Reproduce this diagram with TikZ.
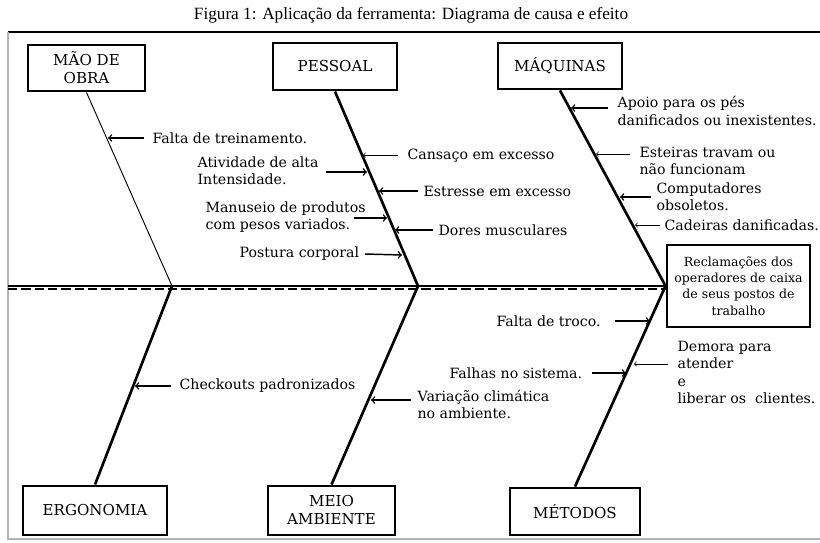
\documentclass[tikz,border=0pt]{standalone}
\usepackage{fontspec}
\setmainfont{DejaVu Serif}
\newfontfamily\titlefont{Liberation Serif}

\begin{document}
\begin{tikzpicture}[x=0.75pt,y=-0.75pt,>=to,
    caixa/.style={draw,line width=2.2pt,align=center,inner sep=1pt,
      font=\fontsize{11.3}{13.5}\selectfont},
    causa/.style={align=left,inner sep=1pt,anchor=west,
      font=\fontsize{10.6}{13}\selectfont},
    espinha/.style={draw,line width=2pt},
    seta/.style={draw,->,line width=1.1pt},
    setafina/.style={draw,->,line width=0.5pt}]

  \useasboundingbox (0,0) rectangle (820,542);

  % titulo e moldura
  \node (titulo) at (411,15) {\titlefont\fontsize{12.9}{14}\selectfont
    Figura 1: Aplicação da ferramenta: Diagrama de causa e efeito};
  \draw[line width=0.8pt] (8,32) -- (820,32);
  \draw[gray!60,line width=0.8pt] (8,32) -- (8,539) -- (820,539);

  \begin{scope}[every node/.style={caixa}]
    \node[minimum width=0.75*117,minimum height=0.75*46] (mao)  at (86.5,68)  {MÃO DE\\OBRA};
    \node[minimum width=0.75*124,minimum height=0.75*47] (pes)  at (335,66.5) {PESSOAL};
    \node[minimum width=0.75*124,minimum height=0.75*46] (maq)  at (560,66)   {MÁQUINAS};
    \node[minimum width=0.75*144,minimum height=0.75*49] (erg)  at (95,510.5) {ERGONOMIA};
    \node[minimum width=0.75*127,minimum height=0.75*49] (meio) at (331.5,510.5) {MEIO\\AMBIENTE};
    \node[minimum width=0.75*130,minimum height=0.75*47] (met)  at (575,511.5) {MÉTODOS};
    \node[minimum width=0.75*143,minimum height=0.75*82,
      font=\fontsize{9.4}{12.2}\selectfont] (efeito) at (738.5,286)
      {Reclamações dos\\operadores de caixa\\de seus postos de\\trabalho};
  \end{scope}

  % pontos na espinha
  \coordinate (s0) at (8,286);
  \coordinate (s1) at (172,286);
  \coordinate (s2) at (418,286);

  % espinha central
  \draw[line width=1.2pt] (s0) -- (efeito.west);
  \draw[line width=1.6pt,dash pattern=on 7 off 3] (8,289) -- (667,289);

  \begin{scope}[every edge/.style={espinha}]
    \path (mao.south) edge[line width=0.7pt] (s1);
    \path (pes.south) edge (s2);
    \path (maq.south) edge (efeito.west);
    \path (s1) edge (erg.north);
    \path (s2) edge (meio.north);
    \path (efeito.west) edge (met.north);
  \end{scope}

  % pontas das setas sobre as espinhas
  \coordinate (m1) at (108,138);
  \coordinate (p1) at (363,155);
  \coordinate (p2) at (367,172);
  \coordinate (p3) at (379,191);
  \coordinate (p4) at (387,218);
  \coordinate (p5) at (395,230);
  \coordinate (p6) at (402,255);
  \coordinate (q1) at (571,108);
  \coordinate (q2) at (596,154);
  \coordinate (q3) at (620,197);
  \coordinate (q4) at (635,225);
  \coordinate (e1) at (135,386);
  \coordinate (a1) at (371,400);
  \coordinate (t1) at (650,321);
  \coordinate (t2) at (634,364);
  \coordinate (t3) at (626,373);

  \begin{scope}[every node/.style={causa}]
    \node (falta) at (151,138)   {Falta de treinamento.};
    \node (cans)  at (406,156)   {Cansaço em excesso};
    \node (ativ)  at (196,171)   {Atividade de alta\\Intensidade.};
    \node (estr)  at (422,191)   {Estresse em excesso};
    \node (manu)  at (204,217)   {Manuseio de produtos\\com pesos variados.};
    \node (dores) at (437,230)   {Dores musculares};
    \node (post)  at (238,254)   {Postura corporal};
    \node (apoio) at (616,111)   {Apoio para os pés\\danificados ou inexistentes.};
    \node (este)  at (638,161)   {Esteiras travam ou\\não funcionam};
    \node (comp)  at (655,196.5) {Computadores\\obsoletos.};
    \node (cad)   at (663,225)   {Cadeiras danificadas.};
    \node (check) at (178,386)   {Checkouts padronizados};
    \node (var)   at (416,404.5) {Variação climática\\no ambiente.};
    \node (troco) at (495,321)   {Falta de troco.};
    \node (falh)  at (448,373)   {Falhas no sistema.};
    \node (dem)   at (676,372.5) {Demora para\\atender\\e\\liberar os~ clientes.};
  \end{scope}

  \begin{scope}[every edge/.style={seta}]
    \path ([xshift=-5]falta.west) edge (m1);
    \path ([xshift=4]ativ.east |- p2) edge (p2);
    \path ([xshift=-3]estr.west) edge (p3);
    \path ([xshift=-10]manu.east |- p4) edge (p4);
    \path ([xshift=-3]dores.west) edge (p5);
    \path ([xshift=3]post.east) edge (p6);
    \path ([xshift=-6]apoio.west |- q1) edge (q1);
    \path ([xshift=-3]comp.west |- q3) edge (q3);
    \path ([xshift=-5]check.west) edge (e1);
    \path ([xshift=-4]var.west |- a1) edge (a1);
    \path ([xshift=10]troco.east) edge (t1);
    \path ([xshift=6]falh.east) edge (t3);
  \end{scope}

  \begin{scope}[every edge/.style={setafina}]
    \path ([xshift=-6]cans.west |- p1) edge (p1);
    \path ([xshift=-6]este.west |- q2) edge (q2);
    \path ([xshift=-2]cad.west) edge (q4);
    \path ([xshift=-6]dem.west |- t2) edge (t2);
  \end{scope}

\end{tikzpicture}
\end{document}
